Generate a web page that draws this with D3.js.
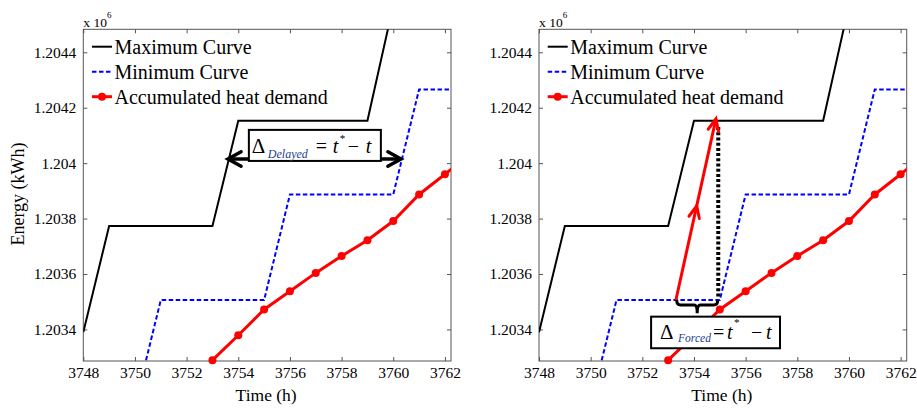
<!DOCTYPE html>
<html><head><meta charset="utf-8">
<script src="https://cdn.jsdelivr.net/npm/d3@7"></script>
<style>body{margin:0;background:#fff}svg{display:block}</style>
</head><body>
<svg id="chart" width="917" height="408"></svg>
<script>
// ---------- data (energy in kWh x 10^6) ----------
const xTicks = [3748, 3750, 3752, 3754, 3756, 3758, 3760, 3762];
const yTicks = [1.2034, 1.2036, 1.2038, 1.204, 1.2042, 1.2044];
const yTickLabels = ["1.2034", "1.2036", "1.2038", "1.204", "1.2042", "1.2044"];

const maxCurveT = [3748, 3749, 3753, 3754, 3759, 3760];
const maxCurveE = [1.20339, 1.203773, 1.203773, 1.204153, 1.204153, 1.20457];

const minCurveT = [3748, 3750, 3751, 3755, 3756, 3760, 3761, 3763];
const minCurveE = [1.203126, 1.203126, 1.203506, 1.203506, 1.203887, 1.203887, 1.204266, 1.204266];

const demandT = [3753, 3754, 3755, 3756, 3757, 3758, 3759, 3760, 3761, 3762, 3763];
const demandE = [1.203289, 1.203379, 1.203472, 1.203538, 1.203604, 1.203665, 1.203722, 1.203791, 1.203887, 1.20396, 1.204035];

const legendLabels = ["Maximum Curve", "Minimum Curve", "Accumulated heat demand"];

// annotation anchors (data coordinates)
const delayedArrowT = [3753.6, 3760.3];
const delayedArrowE = 1.204015;
const delayedBoxT = [3754.41, 3759.52];
const delayedBoxE = [1.204008, 1.20412];

const forcedArrowT = [3753.3, 3754.85];
const forcedArrowE = [1.203506, 1.20416];
const forcedDottedT = 3754.94;
const forcedDottedE = [1.20413, 1.203512];
const forcedBraceT = [3753.33, 3754.92];
const forcedBraceE = [1.203506, 1.203458];
const forcedBoxT = [3752.34, 3757.33];
const forcedBoxE = [1.203332, 1.203446];

// ---------- drawing ----------
const svg = d3.select("#chart");
const FONT = "'Liberation Serif','Times New Roman',serif";
const xDomain = [3748, 3762.235];
const yDomain = [1.203286, 1.204483];
const plotTop = 29.3, plotBottom = 361;
const panels = [{left: 83.3, right: 451, kind: "delayed"}, {left: 539, right: 906.7, kind: "forced"}];

function vArrowHead(g, tip, dir, len, ang, color, w) {
  const [dx, dy] = dir;
  const n = Math.hypot(dx, dy), ux = dx / n, uy = dy / n;
  const pts = [ang, -ang].map(a => {
    const c = Math.cos(a), s = Math.sin(a);
    const rx = ux * c - uy * s, ry = ux * s + uy * c;
    return [tip[0] - rx * len, tip[1] - ry * len];
  });
  g.append("path")
    .attr("d", `M${pts[0][0]},${pts[0][1]}L${tip[0]},${tip[1]}L${pts[1][0]},${pts[1][1]}`)
    .attr("fill", "none").attr("stroke", color).attr("stroke-width", w)
    .attr("stroke-linejoin", "miter").attr("stroke-linecap", "round");
}

panels.forEach((p, pi) => {
  const x = d3.scaleLinear().domain(xDomain).range([p.left, p.right]);
  const y = d3.scaleLinear().domain(yDomain).range([plotBottom, plotTop]);
  const g = svg.append("g");

  const clipId = "clip" + pi;
  svg.append("clipPath").attr("id", clipId).append("rect")
    .attr("x", p.left).attr("y", plotTop).attr("width", p.right - p.left).attr("height", plotBottom - plotTop);

  // axes
  const styleAxis = sel => {
    sel.select(".domain").remove();
    sel.selectAll(".tick line").attr("stroke", "#555");
    sel.selectAll(".tick text").attr("fill", "#000").style("font-family", FONT).style("font-size", "15.5px");
  };
  g.append("g").attr("transform", `translate(0,${plotBottom})`)
    .call(d3.axisBottom(x).tickValues(xTicks).tickSize(-4).tickPadding(6).tickFormat(d3.format("d"))).call(styleAxis);
  g.append("g").attr("transform", `translate(0,${plotTop})`)
    .call(d3.axisTop(x).tickValues(xTicks).tickSize(-4).tickFormat("")).call(styleAxis);
  g.append("g").attr("transform", `translate(${p.left},0)`)
    .call(d3.axisLeft(y).tickValues(yTicks).tickSize(-4).tickPadding(7).tickFormat((d, i) => yTickLabels[i])).call(styleAxis);
  g.append("g").attr("transform", `translate(${p.right},0)`)
    .call(d3.axisRight(y).tickValues(yTicks).tickSize(-4).tickFormat("")).call(styleAxis);
  g.append("rect").attr("x", p.left).attr("y", plotTop).attr("width", p.right - p.left).attr("height", plotBottom - plotTop)
    .attr("fill", "none").attr("stroke", "#555").attr("stroke-width", 1);

  // exponent label
  const ex = g.append("text").attr("x", p.left).attr("y", 26.5)
    .style("font-family", FONT).style("font-size", "13.5px").attr("fill", "#000");
  ex.append("tspan").text("x 10");
  ex.append("tspan").attr("dy", -8.5).style("font-size", "9px").text("6");

  // axis titles
  g.append("text").attr("x", (p.left + p.right) / 2 - 1).attr("y", 401).attr("text-anchor", "middle")
    .style("font-family", FONT).style("font-size", "17.5px").text("Time (h)");
  if (pi === 0) {
    g.append("text").attr("transform", `translate(24,194) rotate(-90)`).attr("text-anchor", "middle")
      .style("font-family", FONT).style("font-size", "18px").text("Energy (kWh)");
  }

  // curves
  const line = d3.line().x(d => x(d[0])).y(d => y(d[1]));
  const cg = g.append("g").attr("clip-path", `url(#${clipId})`);
  cg.append("path").datum(maxCurveT.map((t, i) => [t, maxCurveE[i]])).attr("d", line)
    .attr("fill", "none").attr("stroke", "#000").attr("stroke-width", 2);
  cg.append("path").datum(minCurveT.map((t, i) => [t, minCurveE[i]])).attr("d", line)
    .attr("fill", "none").attr("stroke", "#0000ff").attr("stroke-width", 2).attr("stroke-dasharray", "4.5,2.5");
  cg.append("path").datum(demandT.map((t, i) => [t, demandE[i]])).attr("d", line)
    .attr("fill", "none").attr("stroke", "#ff0000").attr("stroke-width", 3);
  g.append("g").selectAll("circle")
    .data(demandT.map((t, i) => [t, demandE[i]]).filter(d => d[0] <= xDomain[1]))
    .join("circle").attr("cx", d => x(d[0])).attr("cy", d => y(d[1])).attr("r", 4).attr("fill", "#ff0000");

  // legend
  const lx = p.left + 8.7;
  const lg = g.append("g");
  legendLabels.forEach((lab, i) => {
    const ly = 46.7 + i * 25;
    const l = lg.append("line").attr("x1", lx).attr("x2", lx + 20).attr("y1", ly).attr("y2", ly);
    if (i === 0) l.attr("stroke", "#000").attr("stroke-width", 2);
    if (i === 1) l.attr("stroke", "#0000ff").attr("stroke-width", 2).attr("stroke-dasharray", "4.5,2.5");
    if (i === 2) {
      l.attr("stroke", "#ff0000").attr("stroke-width", 3);
      lg.append("circle").attr("cx", lx + 10).attr("cy", ly).attr("r", 4).attr("fill", "#ff0000");
    }
    lg.append("text").attr("x", lx + 22.5).attr("y", ly + 7.3)
      .style("font-family", FONT).style("font-size", "20px").attr("fill", "#000").text(lab);
  });

  // annotations
  const ag = g.append("g");
  function box(bt, be, sub, subSize, layout) {
    const bx = x(bt[0]), by = y(be[1]), bw = x(bt[1]) - x(bt[0]), bh = y(be[0]) - y(be[1]);
    ag.append("rect").attr("x", bx).attr("y", by).attr("width", bw).attr("height", bh)
      .attr("fill", "#fff").attr("stroke", "#000").attr("stroke-width", 2);
    const T = (dx, dy, txt, size, ital, col) => ag.append("text").attr("x", bx + dx).attr("y", by + dy)
      .style("font-family", FONT).style("font-size", size + "px").style("font-style", ital ? "italic" : "normal")
      .attr("fill", col || "#000").text(txt);
    T(layout[0], layout[7], "\u0394", 21, false);
    T(layout[1], layout[8], sub, subSize, true, "#23408e");
    T(layout[2], layout[7], "=", 20, false);
    T(layout[3], layout[7], "t", 20, true);
    T(layout[4], layout[9], "*", 11, false);
    T(layout[5], layout[7], "\u2212", 20, false);
    T(layout[6], layout[7], "t", 20, true);
  }

  if (p.kind === "delayed") {
    const ay = y(delayedArrowE), ax1 = x(delayedArrowT[0]), ax2 = x(delayedArrowT[1]);
    ag.append("line").attr("x1", ax1 + 2).attr("x2", ax2 - 2).attr("y1", ay).attr("y2", ay)
      .attr("stroke", "#000").attr("stroke-width", 3.5);
    vArrowHead(ag, [ax1, ay], [-1, 0], 15, 0.5, "#000", 3.5);
    vArrowHead(ag, [ax2, ay], [1, 0], 15, 0.5, "#000", 3.5);
    box(delayedBoxT, delayedBoxE, "Delayed", 12, [3, 19, 67, 84, 91, 99, 117, 23, 28, 12]);
  } else {
    // dotted vertical
    const dx = x(forcedDottedT);
    ag.append("line").attr("x1", dx).attr("x2", dx).attr("y1", y(forcedDottedE[0])).attr("y2", y(forcedDottedE[1]))
      .attr("stroke", "#000").attr("stroke-width", 4).attr("stroke-dasharray", "3,2.2");
    // red forced arrow
    const s = [x(forcedArrowT[0]), y(forcedArrowE[0])], e = [x(forcedArrowT[1]), y(forcedArrowE[1])];
    ag.append("line").attr("x1", s[0]).attr("y1", s[1]).attr("x2", e[0]).attr("y2", e[1])
      .attr("stroke", "#ff0000").attr("stroke-width", 3);
    const dir = [e[0] - s[0], e[1] - s[1]];
    vArrowHead(ag, e, dir, 13, 0.42, "#ff0000", 3);
    vArrowHead(ag, [s[0] + dir[0] * 0.52, s[1] + dir[1] * 0.52], dir, 13, 0.42, "#ff0000", 3);
    // brace
    const b1 = x(forcedBraceT[0]), b2 = x(forcedBraceT[1]), bm = (b1 + b2) / 2;
    const bt = y(forcedBraceE[0]), bb = y(forcedBraceE[1]), bmid = bt + 5;
    ag.append("path")
      .attr("d", `M${b1},${bt}Q${b1},${bmid} ${b1 + 4},${bmid}L${bm - 3},${bmid}Q${bm},${bmid} ${bm},${bb}` +
                 `M${bm},${bb}Q${bm},${bmid} ${bm + 3},${bmid}L${b2 - 4},${bmid}Q${b2},${bmid} ${b2},${bt}`)
      .attr("fill", "none").attr("stroke", "#000").attr("stroke-width", 3);
    box(forcedBoxT, forcedBoxE, "Forced", 11.5, [9, 27, 62, 76, 83, 100, 115, 22, 25, 9.5]);
  }
});
</script>
</body></html>
